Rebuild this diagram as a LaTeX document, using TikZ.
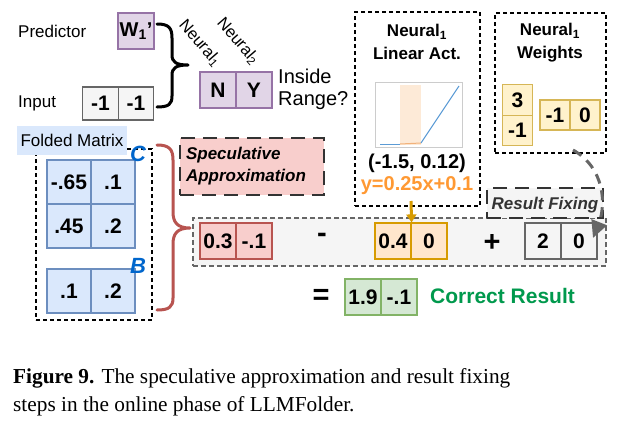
\documentclass[tikz,border=0pt]{standalone}
\usepackage{fontspec}
\setmainfont{Liberation Sans}
\newfontfamily\capfont{Liberation Serif}
\usetikzlibrary{arrows.meta}
\definecolor{purpF}{HTML}{E1D5E7}\definecolor{purpD}{HTML}{9673A6}
\definecolor{grayF}{HTML}{F5F5F5}\definecolor{grayD}{HTML}{666666}
\definecolor{blueF}{HTML}{DAE8FC}\definecolor{blueD}{HTML}{6C8EBF}
\definecolor{redF}{HTML}{F8CECC}\definecolor{redD}{HTML}{B85450}
\definecolor{orF}{HTML}{FFE6CC}\definecolor{orD}{HTML}{D79B00}
\definecolor{yelF}{HTML}{FFF2CC}\definecolor{yelD}{HTML}{D6B656}
\definecolor{grnF}{HTML}{D5E8D4}\definecolor{grnD}{HTML}{82B366}
\definecolor{grnT}{HTML}{00994D}\definecolor{orT}{HTML}{FF9933}
\definecolor{blT}{HTML}{0066CC}\definecolor{bandF}{HTML}{FDEAD7}
\definecolor{lineB}{HTML}{5B9BD5}\definecolor{lineO}{HTML}{F2B27A}
\tikzset{
  cell/.style={draw, line width=1.2pt, inner sep=0pt, minimum width=36pt, minimum height=36pt,
    font=\fontsize{21}{21}\selectfont\bfseries},
  pcell/.style={cell, fill=purpF, draw=purpD},
  gcell/.style={cell, fill=grayF, draw=grayD},
  bcell/.style={cell, fill=blueF, draw=blueD, minimum width=44pt, minimum height=44pt},
  rcell/.style={cell, fill=redF, draw=redD},
  ocell/.style={cell, fill=orF, draw=orD},
  ycell/.style={cell, fill=yelF, draw=yelD, minimum width=30.5pt, minimum height=30.5pt},
  grcell/.style={cell, fill=grnF, draw=grnD},
  dbox/.style={draw, dashed, line width=1.4pt, dash pattern=on 4pt off 3pt, inner sep=0pt},
  lbl/.style={font=\fontsize{17}{17}\selectfont, inner sep=0pt},
  btitle/.style={font=\fontsize{17}{23}\selectfont\bfseries, align=center, inner sep=0pt},
  bitext/.style={font=\fontsize{17}{22}\selectfont\bfseries\itshape, align=left, inner sep=0pt},
  optext/.style={font=\fontsize{29}{29}\selectfont\bfseries, inner sep=0pt},
  mlabel/.style={font=\fontsize{22}{22}\selectfont\bfseries\itshape, text=blT, inner sep=0pt},
  brace/.style={line width=3pt, line cap=round, line join=round},
  rot/.style={font=\fontsize{16.5}{16.5}\selectfont, rotate=-49, inner sep=0pt}
}
\begin{document}
\begin{tikzpicture}[x=1pt,y=-1pt]
\fill[white] (0,0) rectangle (630,426);
\useasboundingbox (0,0) rectangle (630,426);

% ---------- predictor / input ----------
\node[lbl, anchor=west] (predl) at (18,31) {Predictor};
\node[lbl, anchor=west] (inpl) at (18,103) {Input};
\node[pcell, font=\fontsize{20}{20}\selectfont\bfseries] (w1) at (136,31) {W\textsubscript{1}'};
\node[gcell, minimum width=35.5pt, minimum height=33pt] (in1) at (100.5,103.5) {-1};
\node[gcell, minimum width=35.5pt, minimum height=33pt] (in2) at (136,103.5) {-1};
\draw[brace] (157,24) .. controls (169,24) and (172,28) .. (172,38) -- (172,55)
  .. controls (172,62) and (176,65) .. (188,65)
  .. controls (176,65) and (172,68) .. (172,75) -- (172,96)
  .. controls (172,104) and (169,107) .. (157,107);

\node[pcell] (nn) at (218,90) {N};
\node[pcell] (ny) at (254,90) {Y};
\node[rot] (neu1) at (200,43) {Neural\textsubscript{1}};
\node[rot] (neu2) at (238,41) {Neural\textsubscript{2}};
\node[font=\fontsize{20}{22}\selectfont, align=left, inner sep=0pt, anchor=west] (inside) at (278,89) {Inside\\Range?};

% ---------- folded matrix ----------
\node[dbox, minimum width=116pt, minimum height=171pt] (fbox) at (94,234.5) {};
\node[lbl, fill=blueF, minimum width=110pt, minimum height=29pt] (fold) at (72,140.5) {Folded Matrix};
\node[bcell] (c11) at (69,182) {-.65};
\node[bcell] (c12) at (113,182) {.1};
\node[bcell] (c21) at (69,226) {.45};
\node[bcell] (c22) at (113,226) {.2};
\node[bcell] (b1) at (69,291) {.1};
\node[bcell] (b2) at (113,291) {.2};
\node[mlabel] (clab) at (138,154) {C};
\node[mlabel] (blab) at (138,266) {B};
\draw[brace, redD] (157,145) .. controls (169,145) and (173,149) .. (173,160) -- (173,212)
  .. controls (173,222) and (177,228) .. (190,228)
  .. controls (177,228) and (173,234) .. (173,244) -- (173,298)
  .. controls (173,307) and (169,310) .. (157,310);

% ---------- speculative approximation ----------
\node[fill=redF, draw=black!80, line width=2pt, dash pattern=on 14pt off 8pt,
  minimum width=144pt, minimum height=57pt, inner sep=0pt] (spec) at (252,166.5) {};
\node[bitext] (spect) at (246,166) {Speculative\\Approximation};

% ---------- linear activation ----------
\node[dbox, minimum width=125pt, minimum height=194pt] (labox) at (417.5,109) {};
\node[btitle] (lat) at (417,42) {Neural\textsubscript{1}\\Linear Act.};
\draw[black!20, line width=0.8pt] (375,82) rectangle (462,147);
\fill[bandF] (400,85) rectangle (421,145);
\draw[lineB, line width=1pt] (380,144) -- (400,144);
\draw[lineO, line width=1pt] (400,144) -- (421,143);
\draw[lineB, line width=1pt] (421,143) -- (459,86);
\node[font=\fontsize{20}{20}\selectfont\bfseries, inner sep=0pt] (pt) at (417,163) {(-1.5, 0.12)};
\node[font=\fontsize{20}{20}\selectfont\bfseries, text=orT, inner sep=0pt] (yeq) at (417,186) {y=0.25x+0.1};

% ---------- weights ----------
\node[dbox, minimum width=111pt, minimum height=140pt] (wbox) at (550.5,83) {};
\node[btitle] (wt) at (550,43) {Neural\textsubscript{1}\\Weights};
\node[ycell] (y1) at (517.5,100) {3};
\node[ycell] (y2) at (517.5,130.5) {-1};
\node[ycell, minimum width=30pt, minimum height=30pt] (y3) at (555,115) {-1};
\node[ycell, minimum width=30pt, minimum height=30pt] (y4) at (585,115) {0};

% ---------- result row ----------
\node[draw=grayD, fill=grayF, dashed, line width=1.3pt, dash pattern=on 5pt off 3pt,
  minimum width=413pt, minimum height=48pt, inner sep=0pt] (row) at (399.5,242) {};
\node[fill=grayF, draw=black!80, line width=2pt, dash pattern=on 14pt off 8pt,
  minimum width=116pt, minimum height=30pt, inner sep=0pt] (rfbox) at (545,203) {};
\node[bitext, text=black!80] (rft) at (545,205) {Result Fixing};

\node[rcell] (r1) at (218,241) {0.3};
\node[rcell] (r2) at (254,241) {-.1};
\node[optext] (minus) at (322,238) {-};
\node[ocell] (o1) at (393,241) {0.4};
\node[ocell] (o2) at (429,241) {0};
\node[optext] (plus) at (492,243) {+};
\node[gcell] (g1) at (543,241) {2};
\node[gcell] (g2) at (579,241) {0};
\node[optext] (eq) at (321,297) {=};
\node[grcell] (gr1) at (363,297) {1.9};
\node[grcell] (gr2) at (399,297) {-.1};
\node[font=\fontsize{21}{21}\selectfont\bfseries, text=grnT, anchor=west, inner sep=0pt] (corr) at (430,296) {Correct Result};

% ---------- arrows ----------
\coordinate (ya) at (411,201);
\draw[orD, line width=3pt, -{Triangle[width=10pt,length=8pt]}] (ya) -- (o1.north east);
\coordinate (rfs) at (573,150);
\coordinate (rfe) at (593,238);
\draw[grayD, line width=3pt, dash pattern=on 10pt off 7pt, -{Triangle[width=16pt,length=17pt]}]
  (rfs) .. controls (605,168) and (606,205) .. (rfe);

% ---------- caption ----------
\node[anchor=base west, inner sep=0pt, font=\capfont\fontsize{21.3}{21.3}\selectfont] (cap1) at (13,383)
  {\textbf{Figure 9.} The speculative approximation and result fixing};
\node[anchor=base west, inner sep=0pt, font=\capfont\fontsize{21.3}{21.3}\selectfont] (cap2) at (13,411)
  {steps in the online phase of LLMFolder.};
\end{tikzpicture}
\end{document}
